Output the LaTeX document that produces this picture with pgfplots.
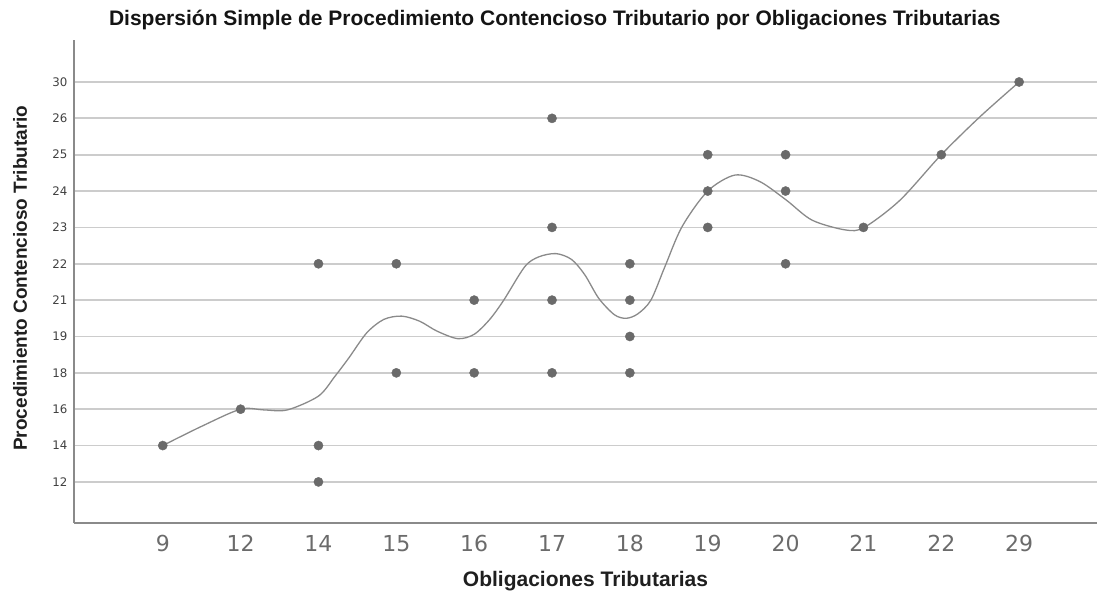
\documentclass[border=0pt]{standalone}
\usepackage{pgfplots}
\pgfplotsset{compat=1.18}
\usepackage{fontspec}
\setmainfont{Liberation Sans}
\newfontfamily\tickfont{DejaVu Sans}
\definecolor{dotc}{HTML}{6A6A6A}
\definecolor{curvec}{HTML}{8A8A8A}
\definecolor{gridc}{HTML}{CCCCCC}
\definecolor{axc}{HTML}{8A8A8A}
\pgfplotstableread{
x y
0 1
1 2
2 6
2 1
2 0
3 6
3 3
4 5
4 3
5 10
5 7
5 5
5 3
6 6
6 5
6 4
6 3
7 9
7 8
7 7
8 9
8 8
8 6
9 7
10 9
11 11
}\points
\pgfplotstableread{
x y
0 1.0
0.5 1.53
1.0 2.0
1.3 1.98
1.6 1.98
2.0 2.36
2.21 2.9
2.39 3.41
2.62 4.1
2.84 4.47
3.07 4.56
3.3 4.42
3.52 4.15
3.79 3.94
4.0 4.06
4.2 4.47
4.38 5.0
4.65 5.92
4.83 6.19
5.05 6.28
5.25 6.12
5.42 5.7
5.6 5.05
5.8 4.6
5.95 4.5
6.1 4.62
6.27 5.0
6.45 5.92
6.67 7.02
7.0 8.0
7.35 8.44
7.67 8.26
8.01 7.75
8.34 7.2
8.77 6.93
9.01 7.0
9.47 7.75
10.0 9.0
10.5 10.05
11.0 11.0
}\curve
\begin{document}
\begin{tikzpicture}
\begin{axis}[
  scale only axis, width=1023pt, height=483pt,
  xmin=-1.14, xmax=12.0, ymin=-1.13, ymax=12.155,
  axis x line*=bottom, axis y line*=left,
  axis line style={draw=axc, line width=1.6pt},
  xtick={0,...,11}, xticklabels={9,12,14,15,16,17,18,19,20,21,22,29},
  ytick={0,...,11}, yticklabels={12,14,16,18,19,21,22,23,24,25,26,30},
  major tick length=0pt,
  ymajorgrids, grid style={draw=gridc, line width=1.8pt},
  xticklabel style={font=\tickfont\fontsize{22}{22}\selectfont, text=black!58, anchor=base, yshift=-29pt},
  yticklabel style={font=\tickfont\fontsize{11.8}{12}\selectfont, text=black!75, xshift=-3pt},
  xlabel={Obligaciones Tributarias},
  ylabel={Procedimiento Contencioso Tributario},
  xlabel style={font=\bfseries\fontsize{21}{21}\selectfont, text=black!88, at={(rel axis cs:0.5,0)}, anchor=base, yshift=-64pt},
  ylabel style={font=\bfseries\fontsize{19}{19}\selectfont, text=black!88, at={(rel axis cs:0,0.507)}, anchor=base, yshift=47pt},
  title={Dispersión Simple de Procedimiento Contencioso Tributario por Obligaciones Tributarias},
  title style={font=\bfseries\fontsize{21}{21}\selectfont, text=black!92, at={(rel axis cs:0.470,1)}, anchor=base, yshift=8pt},
  clip=false,
]
\addplot[curvec, line width=1.3pt, smooth, no marks] table[x=x,y=y] {\curve};
\addplot[only marks, mark=*, mark size=4.6pt, mark options={draw=dotc, fill=dotc}] table[x=x,y=y] {\points};
\end{axis}
\pgfresetboundingbox
\path[use as bounding box] ([shift={(-74pt,-70pt)}]current axis.south west) rectangle ([shift={(0pt,40pt)}]current axis.north east);
\end{tikzpicture}
\end{document}
